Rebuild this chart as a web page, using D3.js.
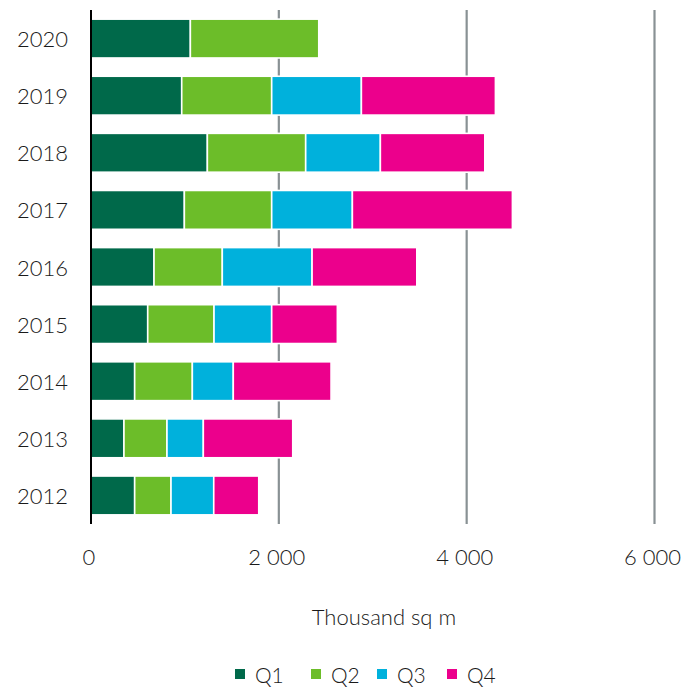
<!DOCTYPE html>
<html>
<head>
<meta charset="utf-8">
<script src="https://cdn.jsdelivr.net/npm/d3@7"></script>
<style>
  html, body { margin: 0; padding: 0; background: #fff; }
  svg { display: block; }
  text { font-family: "Lato", "Open Sans", sans-serif; font-weight: 300; fill: #1a1a1a; }
</style>
</head>
<body>
<script>
const years = ["2020", "2019", "2018", "2017", "2016", "2015", "2014", "2013", "2012"];
const seriesNames = ["Q1", "Q2", "Q3", "Q4"];
const q1 = [1058, 966, 1239, 994, 671, 604, 465, 351, 465];
const q2 = [1367, 958, 1047, 930, 727, 706, 614, 458, 387];
const q3 = [0, 955, 795, 859, 956, 614, 436, 387, 455];
const q4 = [0, 1427, 1112, 1704, 1115, 699, 1041, 952, 479];
const xTicks = [0, 2000, 4000, 6000];
const xTickLabels = ["0", "2 000", "4 000", "6 000"];
const colors = ["#00694a", "#6cbd29", "#00b1dc", "#ec008c"];
const axisTitle = "Thousand sq m";

const W = 698, H = 688;
const svg = d3.select("body").append("svg").attr("width", W).attr("height", H);

const x = d3.scaleLinear().domain([0, 6000]).range([91, 654.5]);
const y = d3.scaleBand().domain(years).range([10, 524]).paddingInner(0.32).paddingOuter(0.16);

const rows = years.map((yr, i) => ({ year: yr, Q1: q1[i], Q2: q2[i], Q3: q3[i], Q4: q4[i] }));
const stacked = d3.stack().keys(seriesNames)(rows);

// gridlines
svg.append("g").selectAll("line").data(xTicks.filter(d => d > 0)).join("line")
  .attr("x1", d => x(d)).attr("x2", d => x(d))
  .attr("y1", 10).attr("y2", 524)
  .attr("stroke", "#899194").attr("stroke-width", 2.2);

// bars
svg.append("g").selectAll("g").data(stacked).join("g")
  .attr("fill", (d, i) => colors[i])
  .selectAll("rect").data(d => d.filter(s => s[1] - s[0] > 0)).join("rect")
  .attr("x", d => x(d[0]))
  .attr("width", d => x(d[1]) - x(d[0]))
  .attr("y", d => y(d.data.year))
  .attr("height", y.bandwidth())
  .attr("stroke", "#ffffff")
  .attr("stroke-width", 1.6);

// axis line at 0
svg.append("line")
  .attr("x1", x(0)).attr("x2", x(0)).attr("y1", 10).attr("y2", 524)
  .attr("stroke", "#000").attr("stroke-width", 2);

// year labels
svg.append("g").selectAll("text").data(years).join("text")
  .attr("x", 68).attr("y", d => y(d) + y.bandwidth() / 2)
  .attr("text-anchor", "end").attr("dominant-baseline", "central")
  .style("font-size", "22px")
  .text(d => d);

// x tick labels
svg.append("g").selectAll("text").data(xTicks).join("text")
  .attr("x", d => x(d) - 2).attr("y", 565)
  .attr("text-anchor", "middle")
  .style("font-size", "22px")
  .text((d, i) => xTickLabels[i]);

// axis title
svg.append("text").attr("x", 384).attr("y", 625)
  .attr("text-anchor", "middle").style("font-size", "22px")
  .text(axisTitle);

// legend
const legendX = [235, 311, 377, 447];
const lg = svg.append("g").selectAll("g").data(seriesNames).join("g")
  .attr("transform", (d, i) => `translate(${legendX[i]},0)`);
lg.append("rect").attr("x", 0).attr("y", 669).attr("width", 10).attr("height", 10)
  .attr("fill", (d, i) => colors[i]);
lg.append("text").attr("x", 20).attr("y", 683).style("font-size", "21px").text(d => d);
</script>
</body>
</html>
